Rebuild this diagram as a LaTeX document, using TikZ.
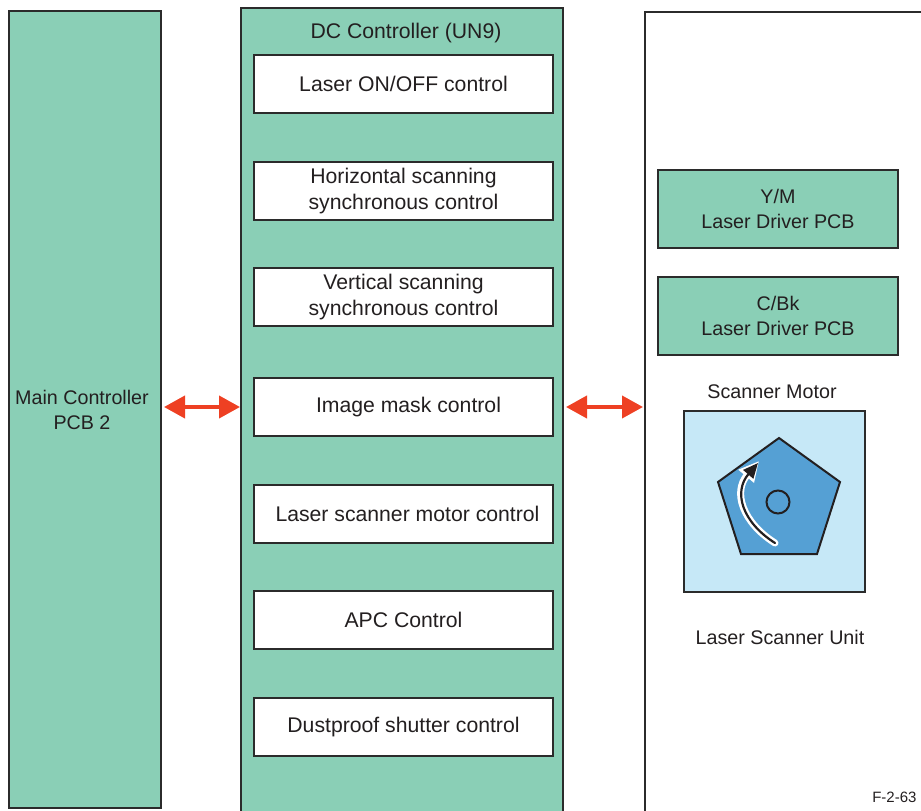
\documentclass[tikz,border=0pt]{standalone}
\usepackage{fontspec}
\setmainfont{Liberation Sans}
\usetikzlibrary{arrows.meta}
\definecolor{pcbgreen}{HTML}{8ACFB6}
\definecolor{unitblue}{HTML}{C6E8F7}
\definecolor{motorblue}{HTML}{55A0D4}
\definecolor{linkred}{HTML}{EE4023}
\definecolor{ink}{HTML}{231F20}
\definecolor{edge}{HTML}{2B2B2B}
\begin{document}
\begin{tikzpicture}[x=1pt,y=-1pt,
  font=\fontsize{19.7}{24.5}\selectfont, text=ink,
  midfont/.style={font=\fontsize{21.2}{25.5}\selectfont},
  board/.style={draw=edge, line width=2pt, fill=pcbgreen},
  func/.style={midfont, draw=edge, line width=1.4pt, fill=white, minimum width=299pt, minimum height=58pt, align=center, inner sep=0pt},
  driver/.style={draw=edge, line width=2pt, fill=pcbgreen, minimum width=240pt, minimum height=78pt, align=center, inner sep=0pt},
  link/.style={draw=linkred, line width=4pt, {Triangle[length=21pt,width=22pt]}-{Triangle[length=21pt,width=22pt]}}]
\useasboundingbox (0,0) rectangle (921,811);
\clip (0,0) rectangle (921,811);

% Main controller
\draw[board] (9,11) rectangle (161,808);
\node[align=center] (mc) at (82,410) {Main Controller\\PCB 2};
\coordinate (mcR) at (164,407);

% DC controller and its functions
\draw[board] (241,8) rectangle (563,830);
\node[midfont] (dctitle) at (406,33) {DC Controller (UN9)};
\coordinate (dcL) at (240,407);
\coordinate (dcR) at (566,407);
\node[func] (f1) at (403.5,84)  {Laser ON/OFF control};
\node[func] (f2) at (403.5,191) {Horizontal scanning\\synchronous control};
\node[func] (f3) at (403.5,297) {Vertical scanning\\synchronous control};
\node[func] (f4) at (403.5,407) {\hspace*{10pt}Image mask control};
\node[func] (f5) at (403.5,514) {\hspace*{8pt}Laser scanner motor control};
\node[func] (f6) at (403.5,620) {APC Control};
\node[func] (f7) at (403.5,727) {Dustproof shutter control};

% Laser scanner unit
\draw[draw=edge, line width=2pt, fill=white] (645,950) -- (645,12) -- (960,12);
\coordinate (lsuL) at (643,407);
\node[driver] (ym) at (778,209) {Y/M\\Laser Driver PCB};
\node[driver] (cbk) at (778,316) {C/Bk\\Laser Driver PCB};
\node (smlabel) at (772,392) {Scanner Motor};
\draw[draw=edge, line width=1.4pt, fill=unitblue] (684,411) rectangle (865,592);
\draw[draw=ink, line width=2pt, fill=motorblue, line join=miter]
  (779,438) -- (840,482) -- (817,554) -- (741,554) -- (718,482) -- cycle;
\draw[draw=ink, line width=2pt] (778,502) circle (11.5);
\draw[white, line width=7pt, line cap=round, -{Triangle[length=20pt,width=19pt]}]
  (775,543) .. controls (742,522) and (733,492) .. (759,461);
\draw[ink, line width=2.2pt, line cap=round, -{Triangle[length=15pt,width=13pt]}]
  (775,543) .. controls (742,522) and (733,492) .. (758,463);
\node (lsu) at (780,637) {Laser Scanner Unit};
\node[font=\fontsize{15}{17}\selectfont, anchor=east] (fig) at (920,797) {F-2-63};

% Signal links
\draw[link] (mcR) -- (dcL);
\draw[link] (dcR) -- (lsuL);
\end{tikzpicture}
\end{document}
